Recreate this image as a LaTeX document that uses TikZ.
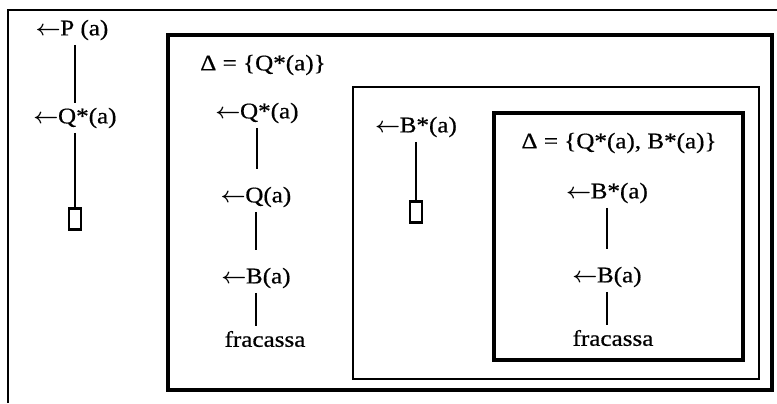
\documentclass[tikz,border=0pt]{standalone}
\usepackage{fontspec}
\setmainfont{Liberation Serif}[FakeStretch=1.12, FakeBold=0.6]
\usetikzlibrary{positioning, calc}
\tikzset{every picture/.append style={thick}}
\tikzset{
    lbl/.style={inner sep=2pt, font=\fontsize{11.2}{13}\selectfont},
    emptybox/.style={draw, line width=1.1pt, minimum width=6pt, minimum height=10.5pt, inner sep=0pt},
    link/.style={line width=1.4pt},
    gap/.style={link, shorten >=6.5pt},
}
\newcommand{\larr}{{\boldmath$\leftarrow$}\kern-0.3pt}

\begin{document}
\begin{tikzpicture}[x=0.5pt, y=-0.5pt]
    \useasboundingbox (0,0) rectangle (777,403);

    % ---------------- FRAMES ---------------- %
    \draw[line width=1.2pt] (8,403) -- (8,10) -- (777,10);
    \draw[line width=2pt] (168,35) rectangle (772,390);
    \draw[line width=1.3pt] (353,87) rectangle (759,379);
    \draw[line width=2pt] (494,113) rectangle (743,360);

    % ---------------- OUTER DERIVATION ---------------- %
    \node[lbl] (p1) at (72,30) {\larr P (a)};
    \node[lbl] (qs1) at (75,118) {\larr Q*(a)};
    \node[emptybox] (e1) at (75,219) {};
    \draw[link] (qs1.north |- p1.south) -- (qs1.north);
    \draw[link] (qs1.south) -- (e1.north);

    % ---------------- DELTA = {Q*(a)} ---------------- %
    \node[lbl] (d2) at (263,65) {Δ = \{Q*(a)\}};
    \node[lbl] (qs2) at (257,113) {\larr Q*(a)};
    \node[lbl] (q2) at (256,197) {\larr Q(a)};
    \node[lbl] (b2) at (256,278) {\larr B(a)};
    \node[lbl] (f2) at (265,339) {fracassa};
    \draw[gap] (qs2.south) -- (qs2.south |- q2.north);
    \draw[gap] (q2.south) -- (q2.south |- b2.north);
    \draw[link] (b2.south) -- (b2.south |- f2.north);

    % ---------------- FAILURE SUBPROOF ---------------- %
    \node[lbl] (bs3) at (416,127) {\larr B*(a)};
    \node[emptybox] (e3) at (416,212) {};
    \draw[link] (bs3.south) -- (e3.north);

    % ---------------- DELTA = {Q*(a), B*(a)} ---------------- %
    \node[lbl] (d4) at (619,143) {Δ = \{Q*(a), B*(a)\}};
    \node[lbl] (bs4) at (607,193) {\larr B*(a)};
    \node[lbl] (b4) at (607,277) {\larr B(a)};
    \node[lbl] (f4) at (613,338) {fracassa};
    \draw[gap] (bs4.south) -- (bs4.south |- b4.north);
    \draw[link] (b4.south) -- (b4.south |- f4.north);
\end{tikzpicture}
\end{document}
